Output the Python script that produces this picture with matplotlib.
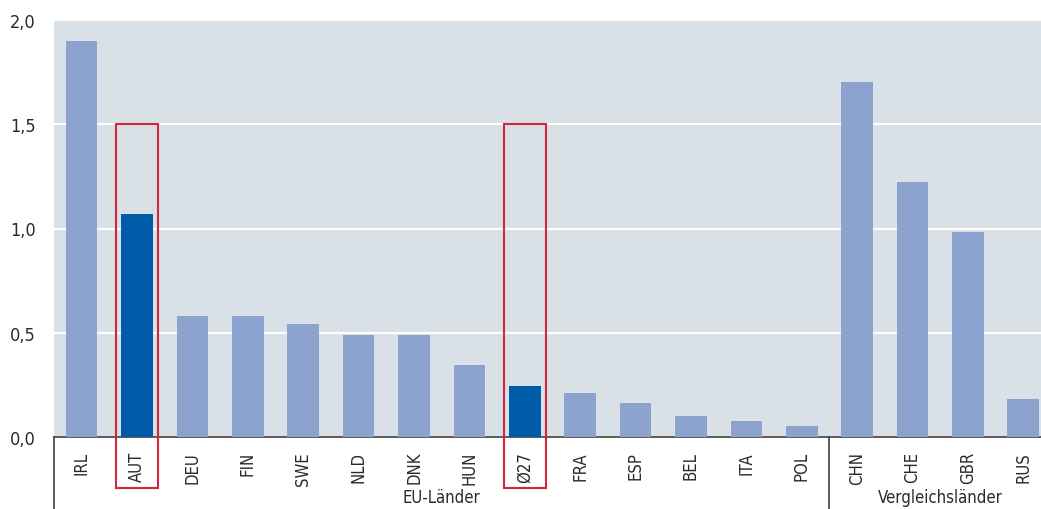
import numpy as np
import matplotlib.pyplot as plt
from matplotlib.patches import Rectangle

# ----------------------------------
# data
countries = ['IRL', 'AUT', 'DEU', 'FIN', 'SWE', 'NLD', 'DNK', 'HUN', 'Ø27',
             'FRA', 'ESP', 'BEL', 'ITA', 'POL', 'CHN', 'CHE', 'GBR', 'RUS']
values = [1.90, 1.07, 0.58, 0.58, 0.54, 0.49, 0.49, 0.345, 0.245,
          0.21, 0.163, 0.10, 0.077, 0.053, 1.705, 1.222, 0.983, 0.182]
highlight = ['AUT', 'Ø27']
groups = ['EU-Länder', 'Vergleichsländer']
group_sizes = [14, 4]
yticks = [0.0, 0.5, 1.0, 1.5, 2.0]
ytick_labels = ['0,0', '0,5', '1,0', '1,5', '2,0']
# ----------------------------------

plt.rcParams['font.family'] = ['DejaVu Sans']
plt.rcParams['font.stretch'] = 'condensed'

BG = '#d9e0e6'
LIGHT = '#8ca3cf'
DARK = '#005ca8'
RED = '#d0283a'
AXC = '#404040'
TXT = '#2a2a2a'
FS = 12

fig = plt.figure(figsize=(10.41, 5.10), dpi=100)
ax = fig.add_axes([54/1041, 72/510, 1 - 54/1041, 417/510])
ax.set_facecolor(BG)

x = np.arange(len(countries))
colors = [DARK if c in highlight else LIGHT for c in countries]
ax.bar(x, values, width=0.57, color=colors, zorder=3)

ax.set_ylim(0, 2.0)
ax.set_xlim(-0.5, 17.32)
ax.set_yticks(yticks)
ax.set_yticklabels(ytick_labels, fontsize=FS + 1, color=TXT)
ax.yaxis.grid(True, color='white', linewidth=1.5, zorder=1)
ax.set_axisbelow(True)
ax.tick_params(axis='y', length=0, pad=13)
ax.set_xticks(x)
ax.set_xticklabels(countries, rotation=90, fontsize=FS, color=TXT)
ax.tick_params(axis='x', length=0, pad=10)

for s in ['top', 'right', 'left']:
    ax.spines[s].set_visible(False)
ax.spines['bottom'].set_color(AXC)
ax.spines['bottom'].set_linewidth(1.2)

# red frames around highlighted bars
for c in highlight:
    i = countries.index(c)
    r = Rectangle((i - 0.38, -0.245), 0.76, 1.745, fill=False, edgecolor=RED,
                  linewidth=1.5, clip_on=False, zorder=5)
    ax.add_patch(r)

# group labels and separators
trans = ax.get_xaxis_transform()
start = 0
for g, n in zip(groups, group_sizes):
    ax.plot([start - 0.5, start - 0.5], [0, -0.175], transform=trans,
            color=AXC, linewidth=1.2, clip_on=False)
    ax.text(start + (n - 1) / 2, -0.145, g, transform=trans, ha='center',
            va='center', fontsize=FS, color=TXT)
    start += n

fig.savefig('out.png', dpi=100)
